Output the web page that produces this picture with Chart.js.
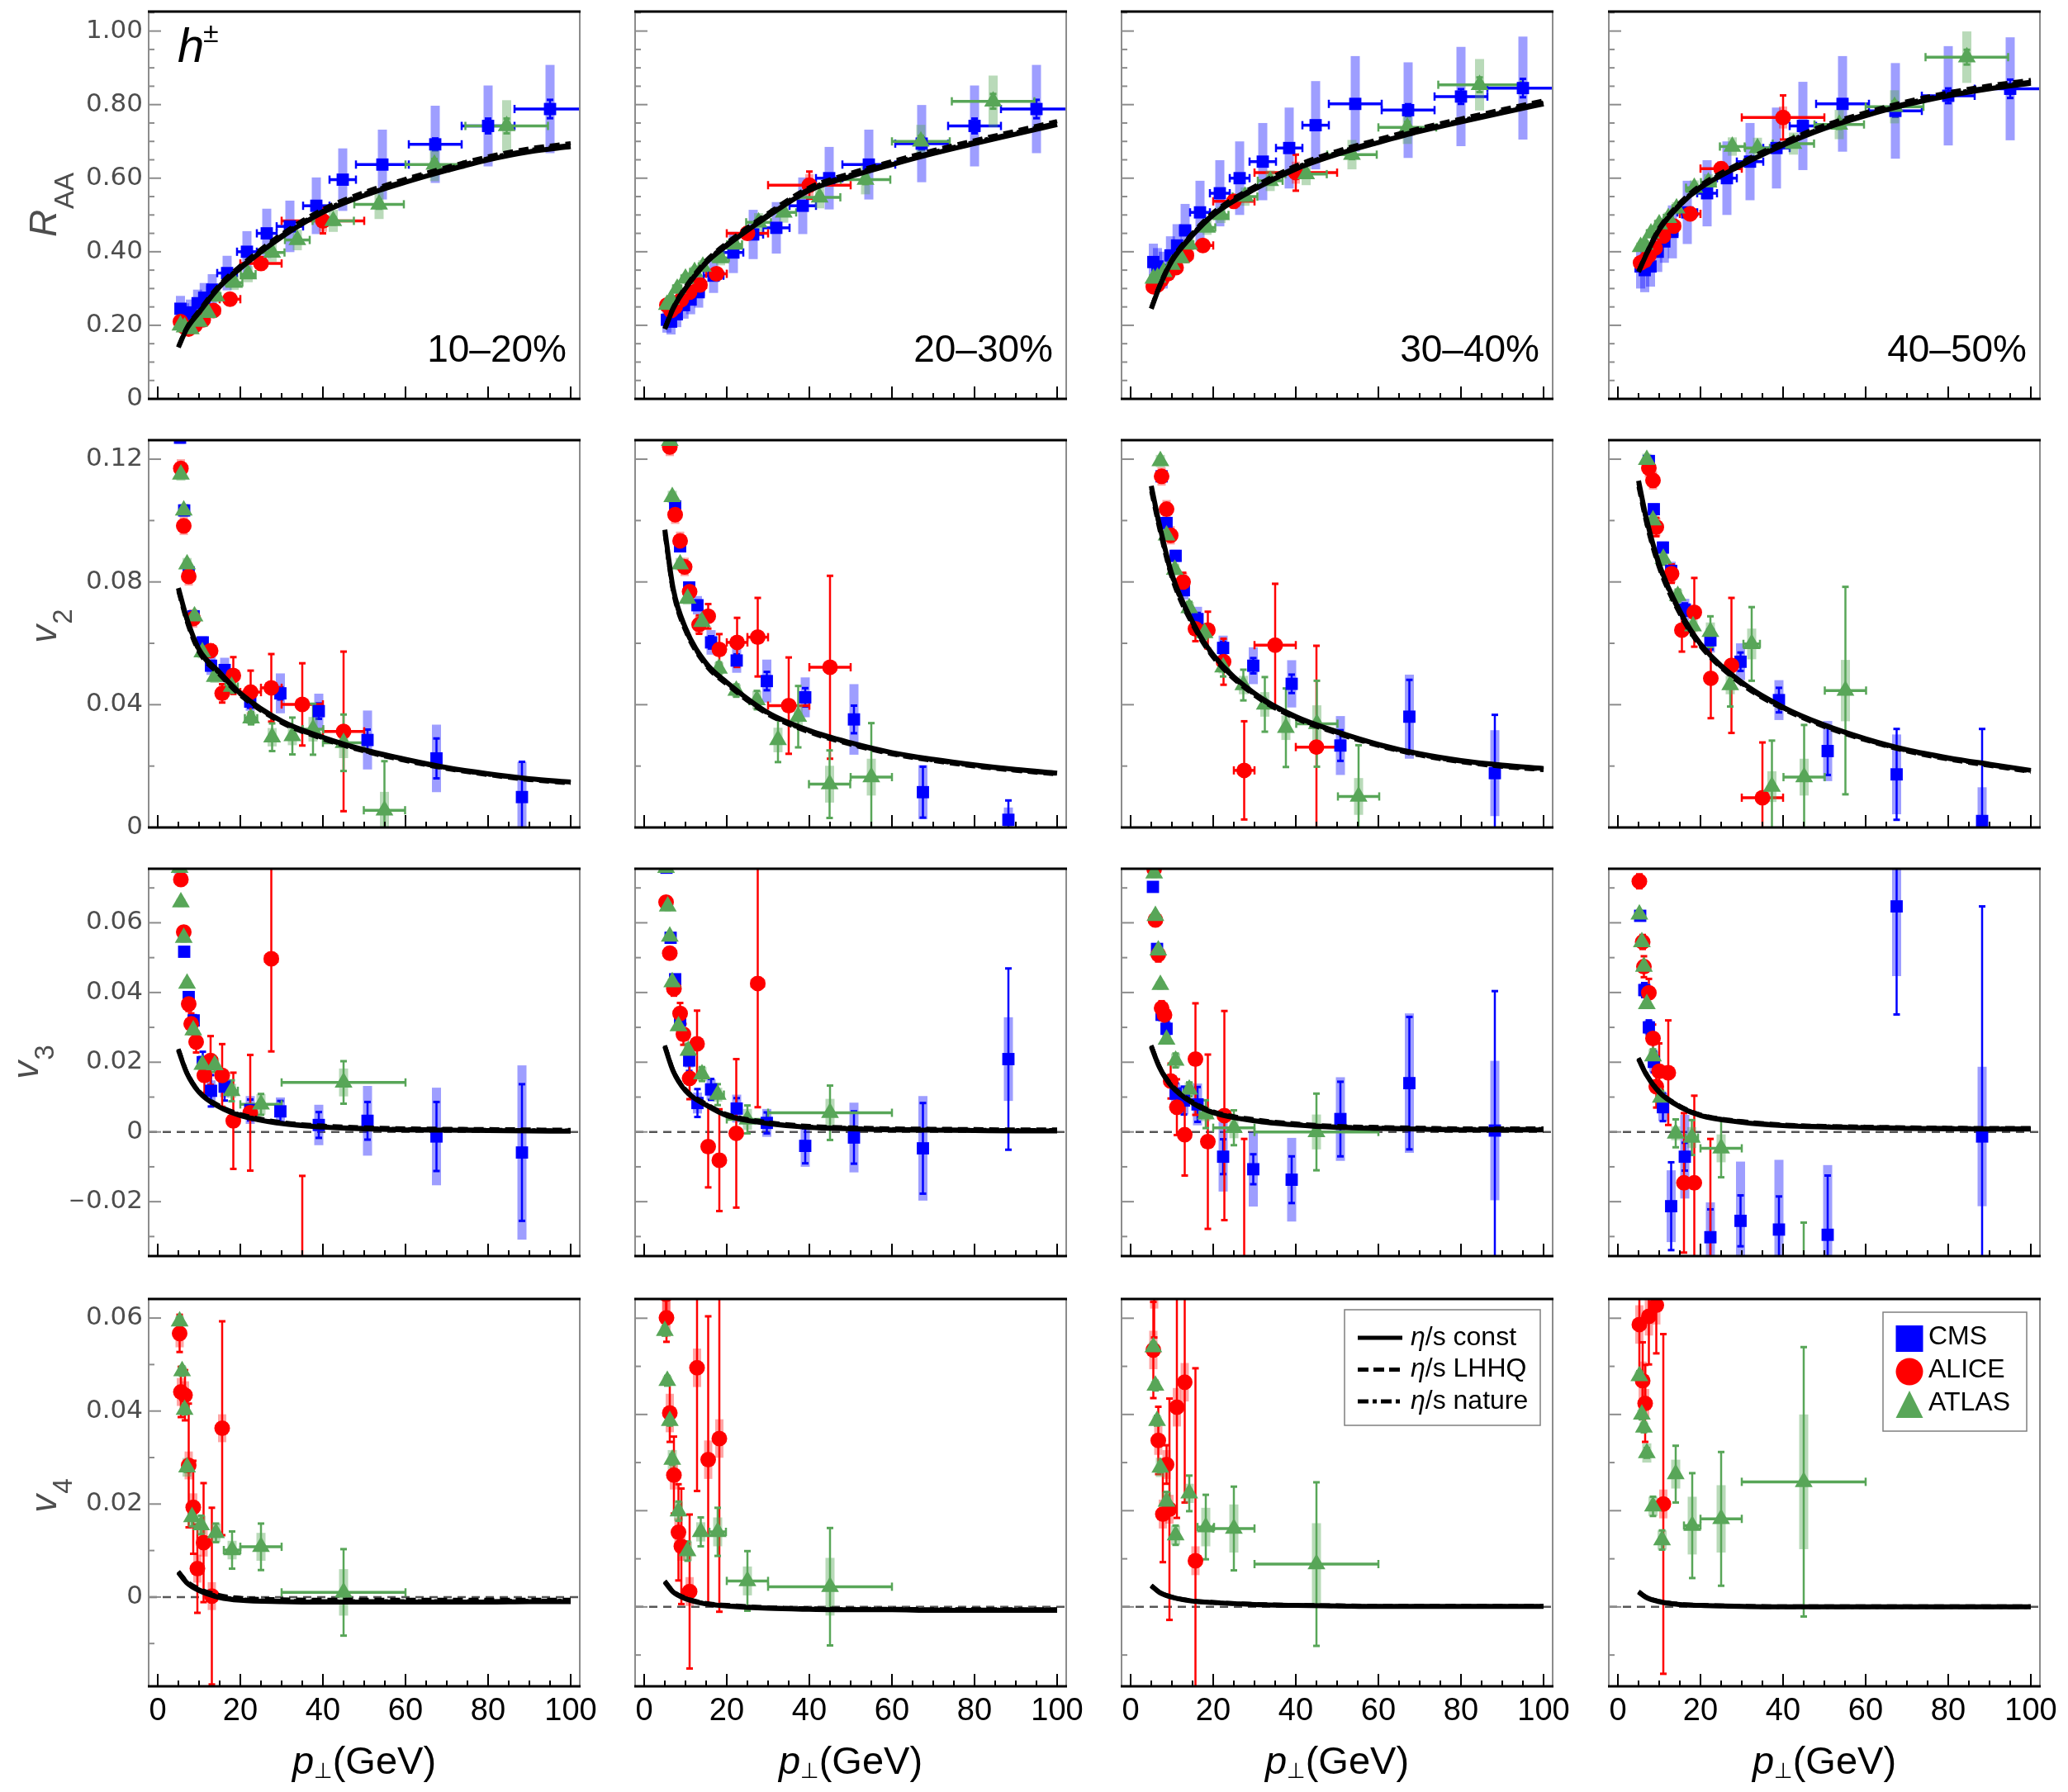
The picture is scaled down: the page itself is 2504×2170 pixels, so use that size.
<!DOCTYPE html>
<html lang="en">
<head>
<meta charset="UTF-8">
<title>h± RAA, v2, v3, v4</title>
<script src="https://cdn.jsdelivr.net/npm/chart.js"></script>
<style>
  html, body { margin: 0; padding: 0; background: #fff; }
  body { width: 2504px; height: 2170px; position: relative; overflow: hidden; }
  canvas { position: absolute; }
</style>
</head>
<body>
<script>
// ---------- data ----------
const centralities = ['10–20%', '20–30%', '30–40%', '40–50%'];

// tick labels
const xTicks = [0, 20, 40, 60, 80, 100];
const raaTicks = [0, 0.2, 0.4, 0.6, 0.8, 1.0];
const raaTickLabels = ['0', '0.20', '0.40', '0.60', '0.80', '1.00'];
const v2Ticks = [0, 0.04, 0.08, 0.12];
const v2TickLabels = ['0', '0.04', '0.08', '0.12'];
const v3Ticks = [-0.02, 0, 0.02, 0.04, 0.06];
const v3TickLabels = ['\u22120.02', '0', '0.02', '0.04', '0.06'];
const v4Ticks = [0, 0.02, 0.04, 0.06];
const v4TickLabels = ['0', '0.02', '0.04', '0.06'];

// theory curves (η/s const, LHHQ, nature) sampled at these pT
const curvePt = [5, 7, 10, 15, 20, 30, 40, 50, 60, 70, 80, 90, 100];
const raaConst = [
  [0.14, 0.19, 0.235, 0.305, 0.355, 0.44, 0.507, 0.553, 0.589, 0.621, 0.65, 0.672, 0.686],
  [0.19, 0.245, 0.3, 0.37, 0.417, 0.497, 0.567, 0.605, 0.637, 0.667, 0.694, 0.72, 0.746],
  [0.245, 0.305, 0.375, 0.445, 0.5, 0.57, 0.625, 0.665, 0.697, 0.727, 0.753, 0.778, 0.802],
  [0.345, 0.395, 0.46, 0.527, 0.574, 0.636, 0.69, 0.735, 0.77, 0.8, 0.824, 0.843, 0.858]];
const raaLHHQ = [
  [0.143, 0.194, 0.24, 0.311, 0.362, 0.448, 0.516, 0.562, 0.598, 0.63, 0.659, 0.681, 0.695],
  [0.193, 0.249, 0.305, 0.376, 0.424, 0.505, 0.575, 0.614, 0.646, 0.676, 0.703, 0.729, 0.755],
  [0.248, 0.309, 0.38, 0.451, 0.507, 0.578, 0.634, 0.674, 0.706, 0.736, 0.762, 0.787, 0.811],
  [0.348, 0.399, 0.465, 0.533, 0.581, 0.644, 0.698, 0.744, 0.779, 0.809, 0.833, 0.852, 0.867]];
const raaNature = [
  [0.141, 0.192, 0.237, 0.308, 0.358, 0.444, 0.511, 0.557, 0.593, 0.625, 0.654, 0.676, 0.69],
  [0.191, 0.247, 0.302, 0.373, 0.42, 0.501, 0.571, 0.609, 0.641, 0.671, 0.698, 0.724, 0.75],
  [0.246, 0.307, 0.377, 0.448, 0.503, 0.574, 0.629, 0.669, 0.701, 0.731, 0.757, 0.782, 0.806],
  [0.346, 0.397, 0.462, 0.53, 0.577, 0.64, 0.694, 0.739, 0.774, 0.804, 0.828, 0.847, 0.862]];
const v2Const = [
  [0.078, 0.0683, 0.058, 0.0505, 0.0437, 0.0347, 0.0294, 0.0253, 0.0222, 0.0195, 0.0175, 0.0159, 0.0148],
  [0.097, 0.078, 0.065, 0.0535, 0.0473, 0.0374, 0.0316, 0.0276, 0.0244, 0.0222, 0.0204, 0.0189, 0.0177],
  [0.1113, 0.0985, 0.0825, 0.067, 0.0562, 0.0437, 0.0361, 0.0312, 0.0271, 0.024, 0.0218, 0.0203, 0.0192],
  [0.113, 0.1001, 0.0858, 0.0705, 0.0598, 0.0473, 0.0392, 0.0334, 0.0289, 0.0253, 0.0227, 0.0206, 0.0186]];
const v2LHHQ = [
  [0.077, 0.0672, 0.0571, 0.0497, 0.043, 0.0341, 0.0288, 0.0248, 0.0217, 0.0191, 0.0171, 0.0155, 0.0144],
  [0.0955, 0.0768, 0.064, 0.0527, 0.0466, 0.0368, 0.031, 0.027, 0.0239, 0.0217, 0.0199, 0.0185, 0.0173],
  [0.1095, 0.097, 0.0812, 0.066, 0.0554, 0.043, 0.0355, 0.0306, 0.0266, 0.0235, 0.0213, 0.0198, 0.0187],
  [0.111, 0.0985, 0.0845, 0.0695, 0.059, 0.0466, 0.0386, 0.0328, 0.0284, 0.0248, 0.0222, 0.0201, 0.0181]];
const v2Nature = [
  [0.0775, 0.0678, 0.0576, 0.0501, 0.0434, 0.0344, 0.0291, 0.025, 0.0219, 0.0193, 0.0173, 0.0157, 0.0146],
  [0.0962, 0.0774, 0.0645, 0.0531, 0.047, 0.0371, 0.0313, 0.0273, 0.0241, 0.0219, 0.0201, 0.0187, 0.0175],
  [0.1104, 0.0978, 0.0818, 0.0665, 0.0558, 0.0433, 0.0358, 0.0309, 0.0268, 0.0237, 0.0215, 0.02, 0.0189],
  [0.112, 0.0993, 0.0851, 0.07, 0.0594, 0.0469, 0.0389, 0.0331, 0.0286, 0.025, 0.0224, 0.0203, 0.0183]];
const v3Const = [
  [0.0235, 0.017, 0.0114, 0.0071, 0.0047, 0.0024, 0.0014, 0.0009, 0.0006, 0.0005, 0.0004, 0.0003, 0.0002],
  [0.0245, 0.0175, 0.0118, 0.0077, 0.0047, 0.0024, 0.0013, 0.0009, 0.0006, 0.0005, 0.0004, 0.0003, 0.0003],
  [0.0245, 0.0185, 0.013, 0.0083, 0.0055, 0.0032, 0.002, 0.0013, 0.001, 0.0008, 0.0006, 0.0006, 0.0006],
  [0.0209, 0.0162, 0.0114, 0.0072, 0.0047, 0.0028, 0.0018, 0.0014, 0.0012, 0.001, 0.0009, 0.0008, 0.0008]];
const v3LHHQ = [
  [0.0238, 0.0173, 0.0117, 0.0075, 0.0051, 0.0028, 0.0018, 0.0013, 0.001, 0.0009, 0.0008, 0.0007, 0.0006],
  [0.0248, 0.0178, 0.0122, 0.0081, 0.0051, 0.0028, 0.0017, 0.0013, 0.001, 0.0009, 0.0008, 0.0007, 0.0007],
  [0.0248, 0.0188, 0.0134, 0.0087, 0.0059, 0.0036, 0.0024, 0.0017, 0.0014, 0.0012, 0.001, 0.001, 0.001],
  [0.0212, 0.0165, 0.0117, 0.0075, 0.005, 0.0031, 0.0021, 0.0017, 0.0015, 0.0013, 0.0012, 0.0011, 0.0011]];
const v3Nature = [
  [0.0237, 0.0172, 0.0116, 0.0073, 0.0049, 0.0026, 0.0016, 0.0011, 0.0008, 0.0007, 0.0006, 0.0005, 0.0004],
  [0.0247, 0.0177, 0.012, 0.0079, 0.0049, 0.0026, 0.0015, 0.0011, 0.0008, 0.0007, 0.0006, 0.0005, 0.0005],
  [0.0247, 0.0187, 0.0132, 0.0085, 0.0057, 0.0034, 0.0022, 0.0015, 0.0012, 0.001, 0.0008, 0.0008, 0.0008],
  [0.0211, 0.0164, 0.0116, 0.0074, 0.0049, 0.003, 0.002, 0.0016, 0.0014, 0.0012, 0.0011, 0.001, 0.001]];
const v4Const = [
  [0.0053, 0.0031, 0.0014, -0.0001, -0.0007, -0.001, -0.0011, -0.0011, -0.0011, -0.0011, -0.0011, -0.001, -0.001],
  [0.0052, 0.0031, 0.0017, 0.0006, 0.0002, -0.0003, -0.0005, -0.0006, -0.0006, -0.0007, -0.0007, -0.0007, -0.0007],
  [0.0044, 0.003, 0.002, 0.0012, 0.0009, 0.0005, 0.0003, 0.0002, 0.0001, 0.0001, 0.0001, 0.0001, 0.0001],
  [0.0031, 0.0019, 0.0011, 0.0005, 0.0003, 0.0001, 0, 0, 0, 0, 0, 0, 0]];
const v4LHHQ = [
  [0.0055, 0.0034, 0.0018, 0.0004, -0.0002, -0.0005, -0.0006, -0.0006, -0.0006, -0.0006, -0.0006, -0.0006, -0.0006],
  [0.0054, 0.0033, 0.0019, 0.0008, 0.0004, -0.0001, -0.0003, -0.0004, -0.0004, -0.0005, -0.0005, -0.0005, -0.0005],
  [0.0045, 0.0031, 0.0021, 0.0013, 0.001, 0.0006, 0.0004, 0.0003, 0.0002, 0.0002, 0.0002, 0.0002, 0.0002],
  [0.0032, 0.002, 0.0012, 0.0006, 0.0004, 0.0002, 0.0001, 0.0001, 0.0001, 0.0001, 0.0001, 0.0001, 0.0001]];
const v4Nature = [
  [0.0054, 0.0032, 0.0016, 0.0001, -0.0005, -0.0008, -0.0009, -0.0009, -0.0009, -0.0009, -0.0009, -0.0008, -0.0008],
  [0.0053, 0.0032, 0.0018, 0.0007, 0.0003, -0.0002, -0.0004, -0.0005, -0.0005, -0.0006, -0.0006, -0.0006, -0.0006],
  [0.0044, 0.003, 0.002, 0.0012, 0.0009, 0.0005, 0.0003, 0.0002, 0.0001, 0.0001, 0.0001, 0.0001, 0.0001],
  [0.0031, 0.0019, 0.0011, 0.0005, 0.0003, 0.0001, 0, 0, 0, 0, 0, 0, 0]];

// R_AA data
const cmsRaaPt = [5.5, 6.5, 7.9, 9.65, 11.25, 13.2, 16.8, 21.6, 26.4, 32, 38.4, 44.8, 54.4, 67.2, 80, 95];
const cmsRaaXe = [0.5, 0.5, 0.9, 0.85, 0.75, 1.2, 2.4, 2.4, 2.4, 3.2, 3.2, 3.2, 6.4, 6.4, 6.4, 8.6];
const cmsRaa = [
  [0.245, 0.225, 0.235, 0.26, 0.275, 0.297, 0.342, 0.40, 0.45, 0.469, 0.525, 0.596, 0.637, 0.692, 0.742, 0.788],
  [0.215, 0.21, 0.23, 0.255, 0.27, 0.29, 0.335, 0.398, 0.447, 0.465, 0.525, 0.60, 0.637, 0.694, 0.742, 0.788],
  [0.372, 0.36, 0.35, 0.39, 0.417, 0.458, 0.507, 0.559, 0.60, 0.645, 0.682, 0.744, 0.802, 0.785, 0.822, 0.845],
  [0.36, 0.35, 0.36, 0.40, 0.428, 0.454, 0.507, 0.559, 0.60, 0.645, 0.682, 0.742, 0.802, 0.783, 0.824, 0.843]];
const cmsRaaStat = [0.004, 0.004, 0.004, 0.004, 0.005, 0.005, 0.005, 0.006, 0.007, 0.008, 0.009, 0.01, 0.012, 0.016, 0.02, 0.025];
const cmsRaaSys = [
  [0.035, 0.035, 0.035, 0.037, 0.04, 0.042, 0.047, 0.056, 0.067, 0.07, 0.077, 0.085, 0.095, 0.105, 0.11, 0.12],
  [0.035, 0.035, 0.035, 0.037, 0.04, 0.042, 0.047, 0.056, 0.067, 0.07, 0.077, 0.085, 0.095, 0.105, 0.11, 0.12],
  [0.05, 0.05, 0.05, 0.052, 0.058, 0.072, 0.086, 0.09, 0.1, 0.105, 0.11, 0.12, 0.13, 0.13, 0.135, 0.14],
  [0.06, 0.06, 0.055, 0.055, 0.058, 0.072, 0.086, 0.09, 0.1, 0.105, 0.11, 0.12, 0.13, 0.13, 0.135, 0.14]];

const aliceRaaPt = [5.5, 6.5, 7.5, 9, 11, 13.5, 17.5, 25, 40];
const aliceRaaXe = [0.5, 0.5, 0.5, 1, 1, 1.5, 2.5, 5, 10];
const aliceRaa = [
  [0.21, 0.195, 0.19, 0.2, 0.215, 0.24, 0.271, 0.368, 0.484],
  [0.255, 0.24, 0.25, 0.27, 0.29, 0.31, 0.34, 0.45, 0.581],
  [0.305, 0.31, 0.324, 0.34, 0.357, 0.39, 0.417, 0.537, 0.615],
  [0.37, 0.376, 0.39, 0.41, 0.443, 0.47, 0.503, 0.626, 0.765]];
const aliceRaaStat = [
  [0.003, 0.003, 0.004, 0.004, 0.005, 0.006, 0.008, 0.015, 0.034],
  [0.003, 0.003, 0.004, 0.004, 0.005, 0.006, 0.008, 0.015, 0.037],
  [0.003, 0.003, 0.004, 0.004, 0.005, 0.006, 0.008, 0.015, 0.049],
  [0.003, 0.003, 0.004, 0.004, 0.005, 0.006, 0.008, 0.015, 0.06]];
const aliceRaaSys = [0.012, 0.012, 0.012, 0.013, 0.014, 0.016, 0.018, 0.02, 0.03];

const atlasRaaPt = [5.5, 6.5, 8, 10, 12.2, 14.2, 18.5, 21.9, 27.7, 33.8, 42.5, 53.6, 67, 84.5];
const atlasRaaXe = [0.5, 0.5, 1, 1, 1.1, 1, 2, 1.8, 3, 3, 5, 6, 7, 10];
const atlasRaa = [
  [0.2, 0.195, 0.19, 0.21, 0.234, 0.279, 0.316, 0.339, 0.398, 0.432, 0.484, 0.529, 0.637, 0.742],
  [0.256, 0.27, 0.30, 0.327, 0.345, 0.36, 0.383, 0.42, 0.48, 0.507, 0.548, 0.596, 0.70, 0.809],
  [0.327, 0.33, 0.345, 0.365, 0.383, 0.42, 0.466, 0.5, 0.55, 0.593, 0.611, 0.664, 0.738, 0.854],
  [0.413, 0.42, 0.45, 0.475, 0.492, 0.518, 0.574, 0.589, 0.686, 0.682, 0.694, 0.746, 0.794, 0.929]];
const atlasRaaStat = [0.002, 0.002, 0.002, 0.003, 0.003, 0.004, 0.004, 0.005, 0.006, 0.007, 0.01, 0.012, 0.015, 0.02];
const atlasRaaSys = [0.012, 0.012, 0.012, 0.013, 0.015, 0.017, 0.02, 0.022, 0.025, 0.028, 0.03, 0.04, 0.045, 0.07];

// CMS flow data (v2, v3) share pT bins
const cmsFlowPt = [5.4, 6.4, 7.5, 8.7, 10.9, 12.9, 16.2, 22.4, 29.7, 39, 50.8, 67.5, 88.2];
const cmsV2 = [
  [0.127, 0.1033, 0.0831, 0.0688, 0.0603, 0.0527, 0.0513, 0.041, 0.0437, 0.0379, 0.0285, 0.0225, 0.0099],
  [null, 0.126, 0.1046, 0.0916, 0.0782, 0.0724, 0.0603, 0.0544, 0.0477, 0.0424, 0.0352, 0.0115, 0.0025],
  [null, null, 0.1144, 0.0992, 0.0885, 0.0773, 0.0679, 0.0585, 0.0527, 0.0468, 0.0267, 0.0361, 0.0177],
  [null, null, 0.1194, 0.1037, 0.0912, 0.0836, 0.071, 0.061, 0.054, 0.0415, 0.0249, 0.0173, 0.0021]];
const cmsV2Stat = [
  [0.001, 0.001, 0.001, 0.001, 0.001, 0.001, 0.0015, 0.002, 0.002, 0.0025, 0.0034, 0.0065, 0.0115],
  [0.001, 0.001, 0.001, 0.001, 0.001, 0.0015, 0.002, 0.002, 0.003, 0.003, 0.0045, 0.0083, 0.0063],
  [0.001, 0.001, 0.001, 0.001, 0.001, 0.0015, 0.002, 0.002, 0.0025, 0.003, 0.005, 0.012, 0.019],
  [0.001, 0.001, 0.001, 0.001, 0.001, 0.0015, 0.002, 0.003, 0.003, 0.004, 0.0078, 0.0148, 0.03]];
const cmsV2Sys = [
  [0.002, 0.002, 0.002, 0.002, 0.002, 0.003, 0.004, 0.003, 0.0065, 0.0057, 0.0096, 0.011, 0.0115],
  [0.002, 0.002, 0.002, 0.002, 0.002, 0.003, 0.004, 0.004, 0.007, 0.0065, 0.0115, 0.0088, 0.004],
  [0.002, 0.002, 0.002, 0.002, 0.002, 0.003, 0.004, 0.004, 0.006, 0.0077, 0.0096, 0.0137, 0.014],
  [0.002, 0.002, 0.002, 0.002, 0.002, 0.003, 0.0035, 0.004, 0.006, 0.0065, 0.0098, 0.013, 0.011]];
const cmsV3 = [
  [0.076, 0.0517, 0.0387, 0.032, 0.02, 0.0118, 0.013, 0.0063, 0.0059, 0.002, 0.0032, -0.0013, -0.0059],
  [0.0758, 0.0557, 0.0438, 0.032, 0.0205, 0.0083, 0.0122, 0.0067, 0.0026, -0.004, -0.0016, -0.0047, 0.0209],
  [0.0703, 0.0525, 0.0336, 0.0296, 0.011, 0.009, 0.0079, -0.0071, -0.0107, -0.0137, 0.0037, 0.014, 0.0004],
  [0.062, 0.0407, 0.03, 0.0201, 0.0071, -0.0213, -0.0071, -0.0302, -0.0255, -0.028, -0.0295, 0.0647, -0.0013]];
const cmsV3Stat = [
  [0.001, 0.001, 0.001, 0.0015, 0.003, 0.0045, 0.004, 0.003, 0.003, 0.0037, 0.0054, 0.0099, 0.0196],
  [0.001, 0.001, 0.001, 0.0015, 0.003, 0.004, 0.003, 0.003, 0.003, 0.005, 0.0075, 0.013, 0.026],
  [0.001, 0.001, 0.0015, 0.002, 0.003, 0.004, 0.005, 0.005, 0.0043, 0.0067, 0.0107, 0.019, 0.04],
  [0.001, 0.002, 0.002, 0.003, 0.004, 0.0126, 0.004, 0.008, 0.0073, 0.0095, 0.017, 0.031, 0.066]];
const cmsV3Sys = [
  [0.001, 0.001, 0.001, 0.0015, 0.002, 0.003, 0.003, 0.004, 0.004, 0.0058, 0.01, 0.014, 0.025],
  [0.001, 0.001, 0.001, 0.0015, 0.002, 0.003, 0.003, 0.004, 0.004, 0.006, 0.01, 0.015, 0.012],
  [0.001, 0.001, 0.0015, 0.002, 0.003, 0.004, 0.006, 0.01, 0.0107, 0.012, 0.012, 0.02, 0.02],
  [0.001, 0.002, 0.002, 0.003, 0.004, 0.0103, 0.012, 0.01, 0.017, 0.02, 0.02, 0.02, 0.02]];

// ALICE / ATLAS flow points: [pT, value, pT half-width, stat, sys]
const aliceV2 = [
  [[5.6, 0.117, 0, 0.001, 0.003], [6.3, 0.0983, 0, 0.001, 0.003], [7.5, 0.0818, 0, 0.001, 0.003], [8.6, 0.0681, 0, 0.001, 0.003], [12.8, 0.0576, 0, 0.002, 0.002], [15.6, 0.0437, 0, 0.003, 0.002], [18.3, 0.0495, 0, 0.006, 0.002], [22.5, 0.0441, 2.5, 0.007, 0.002], [27.5, 0.0455, 2.5, 0.011, 0.002], [35, 0.0401, 5, 0.0134, 0.002], [45, 0.0313, 5, 0.026, 0.002]],
  [[6.2, 0.124, 0, 0.001, 0.003], [7.5, 0.1019, 0, 0.001, 0.003], [8.7, 0.0934, 0, 0.001, 0.003], [9.8, 0.0849, 0, 0.002, 0.003], [11, 0.0768, 0, 0.002, 0.003], [13.3, 0.0661, 0, 0.003, 0.003], [15.5, 0.0688, 0, 0.004, 0.002], [18.2, 0.058, 0, 0.005, 0.002], [22.5, 0.0603, 2.5, 0.008, 0.002], [27.5, 0.062, 2.5, 0.0128, 0.002], [35, 0.0397, 5, 0.0157, 0.002], [45, 0.0522, 5, 0.0298, 0.002]],
  [[7.5, 0.1144, 0, 0.001, 0.003], [8.7, 0.1037, 0, 0.001, 0.003], [9.7, 0.0952, 0, 0.002, 0.003], [12.7, 0.08, 0, 0.003, 0.003], [15.7, 0.0647, 0, 0.004, 0.002], [18.7, 0.0643, 0, 0.006, 0.002], [22.5, 0.054, 0, 0.0075, 0.002], [27.5, 0.0186, 2.5, 0.016, 0.002], [35, 0.0594, 5, 0.02, 0.002], [45, 0.0262, 5, 0.033, 0.002]],
  [[7.5, 0.1171, 0, 0.002, 0.003], [8.5, 0.1131, 0, 0.002, 0.003], [9.3, 0.0979, 0, 0.003, 0.003], [13, 0.0827, 0, 0.003, 0.003], [15.5, 0.0643, 0, 0.007, 0.002], [18.5, 0.0701, 0, 0.0112, 0.002], [22.5, 0.0486, 0, 0.013, 0.002], [27.5, 0.0528, 0, 0.022, 0.002], [35, 0.0097, 5, 0.018, 0.002]]];
const atlasV2 = [
  [[5.6, 0.115, 0, 0.001, 0.002], [6.3, 0.1033, 0, 0.001, 0.002], [7.1, 0.0858, 0, 0.001, 0.002], [8.9, 0.0688, 0, 0.001, 0.002], [10.8, 0.0571, 0, 0.001, 0.002], [13.8, 0.0491, 0, 0.001, 0.002], [17.9, 0.0459, 1.5, 0.002, 0.002], [22.6, 0.0356, 1.5, 0.002, 0.002], [27.7, 0.0294, 0, 0.0045, 0.003], [32.6, 0.0298, 0, 0.006, 0.003], [37.6, 0.032, 2.5, 0.0083, 0.004], [45, 0.0276, 5, 0.0092, 0.005], [54.9, 0.0056, 5, 0.016, 0.006]],
  [[6.2, 0.126, 0, 0.001, 0.002], [6.8, 0.1077, 0, 0.001, 0.002], [8.7, 0.0858, 0, 0.001, 0.002], [10.5, 0.0746, 0, 0.001, 0.002], [14, 0.067, 0, 0.002, 0.002], [18.1, 0.0518, 0, 0.002, 0.002], [22.3, 0.0446, 0, 0.002, 0.002], [27.3, 0.0415, 0, 0.003, 0.003], [32.4, 0.0285, 0, 0.0072, 0.004], [37.3, 0.0361, 0, 0.01, 0.004], [44.9, 0.0141, 5, 0.011, 0.006], [55, 0.0164, 5, 0.0176, 0.006]],
  [[7.2, 0.1194, 0, 0.001, 0.002], [8.7, 0.0952, 0, 0.001, 0.002], [10.7, 0.084, 0, 0.001, 0.002], [14.2, 0.0715, 0, 0.002, 0.002], [17.9, 0.0634, 0, 0.002, 0.002], [22.4, 0.0522, 0, 0.003, 0.002], [27.3, 0.0464, 0, 0.005, 0.003], [32.5, 0.0401, 0, 0.0089, 0.004], [37.6, 0.0325, 0, 0.0128, 0.004], [45.1, 0.0338, 5, 0.014, 0.006], [55.2, 0.0101, 5, 0.0167, 0.006]],
  [[7, 0.1198, 0, 0.001, 0.002], [8.5, 0.1001, 0, 0.001, 0.002], [11, 0.0876, 0, 0.002, 0.002], [14.5, 0.0755, 0, 0.002, 0.002], [18.2, 0.0656, 0, 0.003, 0.002], [22.4, 0.0638, 0, 0.005, 0.003], [27.2, 0.0464, 0, 0.007, 0.003], [32.4, 0.0598, 2, 0.012, 0.005], [37.3, 0.0133, 0, 0.015, 0.005], [45.1, 0.0164, 5, 0.017, 0.006], [55.1, 0.0446, 5, 0.0338, 0.01]]];
const aliceV3 = [
  [[5.6, 0.0724, 0, 0.001, 0.002], [6.3, 0.0573, 0, 0.001, 0.002], [7.5, 0.0367, 0, 0.002, 0.002], [8.1, 0.031, 0, 0.003, 0.002], [9.3, 0.0258, 0, 0.003, 0.002], [11.3, 0.0162, 0, 0.005, 0.002], [12.8, 0.0205, 0, 0.007, 0.002], [15.6, 0.0162, 0, 0.009, 0.002], [18.3, 0.0032, 0, 0.0138, 0.002], [22.4, 0.0055, 0, 0.0166, 0.002], [27.5, 0.0497, 1.5, 0.0266, 0.002], [35, -0.045, 0, 0.0324, 0.002]],
  [[5.3, 0.0659, 0, 0.001, 0.002], [6.2, 0.0513, 0, 0.001, 0.002], [7.2, 0.0411, 0, 0.002, 0.002], [8.7, 0.034, 0, 0.003, 0.002], [9.5, 0.028, 0, 0.003, 0.002], [11, 0.0154, 0, 0.006, 0.002], [12.8, 0.0253, 0, 0.0095, 0.002], [15.5, -0.0042, 0, 0.0117, 0.002], [18.2, -0.0081, 0, 0.0146, 0.002], [22.3, -0.0004, 0, 0.0213, 0.002], [27.5, 0.0426, 1.5, 0.0355, 0.002]],
  [[5.7, 0.0754, 0, 0.001, 0.002], [6, 0.0608, 0, 0.001, 0.002], [6.7, 0.0509, 0, 0.002, 0.002], [7.5, 0.0355, 0, 0.002, 0.002], [8.2, 0.0336, 0, 0.003, 0.002], [9.7, 0.0146, 0, 0.005, 0.002], [11.2, 0.0071, 0, 0.008, 0.002], [13.1, -0.0008, 0, 0.0117, 0.002], [15.7, 0.0209, 0, 0.016, 0.002], [18.7, -0.0028, 0, 0.025, 0.002], [22.7, 0.0047, 0, 0.03, 0.002], [27.5, -0.04, 0, 0.038, 0.002]],
  [[5.2, 0.0719, 0, 0.002, 0.002], [6, 0.0545, 0, 0.002, 0.002], [6.3, 0.0474, 0, 0.003, 0.002], [7.5, 0.0399, 0, 0.004, 0.002], [8.5, 0.0268, 0, 0.004, 0.002], [9.3, 0.013, 0, 0.006, 0.002], [10, 0.0174, 0, 0.008, 0.002], [12.2, 0.017, 0, 0.015, 0.002], [16, -0.0146, 0, 0.02, 0.002], [18.5, -0.0146, 0, 0.025, 0.002], [22.4, -0.04, 0, 0.038, 0.002]]];
const atlasV3 = [
  [[5.3, 0.0758, 0, 0.001, 0.001], [5.6, 0.0659, 0, 0.001, 0.001], [6.3, 0.0557, 0, 0.001, 0.001], [7.1, 0.0426, 0, 0.001, 0.001], [8.6, 0.0292, 0, 0.001, 0.001], [10.8, 0.0193, 0, 0.002, 0.002], [13.8, 0.0192, 0, 0.002, 0.002], [17.9, 0.0118, 1.5, 0.003, 0.002], [25, 0.0079, 5, 0.003, 0.003], [45, 0.0142, 15, 0.0061, 0.004]],
  [[5.3, 0.0758, 0, 0.001, 0.001], [5.7, 0.0647, 0, 0.001, 0.001], [6.2, 0.0561, 0, 0.001, 0.001], [6.8, 0.043, 0, 0.001, 0.001], [8.3, 0.0304, 0, 0.001, 0.001], [10.7, 0.0233, 0, 0.002, 0.002], [14, 0.0166, 0, 0.002, 0.002], [17.8, 0.0107, 1.5, 0.003, 0.002], [25, 0.0036, 5, 0.004, 0.003], [45, 0.0055, 15, 0.0078, 0.004]],
  [[5.7, 0.0742, 0, 0.001, 0.001], [6, 0.062, 0, 0.001, 0.001], [6.7, 0.0521, 0, 0.001, 0.001], [7.2, 0.0422, 0, 0.001, 0.001], [8.7, 0.0265, 0, 0.001, 0.001], [10.9, 0.0205, 0, 0.002, 0.002], [14.2, 0.0122, 0, 0.002, 0.002], [18.2, 0.0051, 1.5, 0.004, 0.002], [25, 0.0012, 5, 0.005, 0.003], [45, 0, 15, 0.011, 0.005]],
  [[5.2, 0.0624, 0, 0.001, 0.001], [5.8, 0.0545, 0, 0.001, 0.001], [6.3, 0.0474, 0, 0.001, 0.001], [7, 0.0367, 0, 0.001, 0.001], [8.5, 0.0217, 0, 0.002, 0.002], [10.4, 0.0099, 0, 0.002, 0.002], [14, -0.0004, 0, 0.004, 0.002], [17.9, -0.0016, 1.5, 0.005, 0.003], [25, -0.0047, 5, 0.0083, 0.004], [45, -0.05, 0, 0.024, 0.004]]];
const aliceV4 = [
  [[5.3, 0.0567, 0, 0.004, 0.003], [5.6, 0.0441, 0, 0.0054, 0.003], [6.6, 0.0434, 0, 0.0054, 0.003], [7.5, 0.0283, 0, 0.0133, 0.003], [8.6, 0.0193, 0, 0.01, 0.003], [9.6, 0.0061, 0, 0.0095, 0.003], [11.1, 0.0117, 0, 0.0128, 0.003], [13.1, 0.0002, 0, 0.019, 0.003], [15.6, 0.0363, 0, 0.023, 0.003]],
  [[5.3, 0.065, 0, 0.005, 0.004], [5.4, 0.0601, 0, 0.005, 0.004], [6.2, 0.0403, 0, 0.006, 0.004], [7.2, 0.0274, 0, 0.008, 0.003], [8.3, 0.0155, 0, 0.01, 0.003], [9, 0.0126, 0, 0.012, 0.003], [11, 0.0032, 0, 0.016, 0.003], [12.8, 0.0497, 0, 0.0256, 0.004], [15.5, 0.0306, 0, 0.0298, 0.004], [18.2, 0.035, 0, 0.036, 0.004]],
  [[5.5, 0.0534, 0, 0.01, 0.004], [5.7, 0.066, 0, 0.01, 0.004], [6.7, 0.0346, 0, 0.007, 0.003], [7.8, 0.0193, 0, 0.01, 0.003], [8.7, 0.0296, 0, 0.004, 0.003], [9.4, 0.0203, 0, 0.023, 0.003], [11.2, 0.0415, 0, 0.023, 0.004], [13.1, 0.0467, 0, 0.025, 0.004], [15.7, 0.0096, 0, 0.04, 0.003]],
  [[5.2, 0.0587, 0, 0.01, 0.004], [6, 0.047, 0, 0.008, 0.004], [6.6, 0.0423, 0, 0.008, 0.003], [7.5, 0.0604, 0, 0.01, 0.004], [9.3, 0.0627, 0, 0.01, 0.004], [11, 0.0214, 0, 0.0353, 0.003]]];
const atlasV4 = [
  [[5.3, 0.0593, 0, 0.001, 0.001], [5.9, 0.0486, 0, 0.001, 0.001], [6.5, 0.0403, 0, 0.001, 0.001], [7.1, 0.0279, 0, 0.001, 0.002], [8.3, 0.0172, 0, 0.002, 0.002], [10.5, 0.0155, 0, 0.002, 0.002], [14.1, 0.0138, 0, 0.002, 0.002], [18, 0.0101, 2, 0.004, 0.002], [25, 0.0108, 5, 0.005, 0.003], [45, 0.001, 15, 0.0093, 0.005]],
  [[5, 0.0574, 0, 0.001, 0.001], [5.6, 0.047, 0, 0.001, 0.001], [6.2, 0.0387, 0, 0.001, 0.001], [6.8, 0.0306, 0, 0.001, 0.002], [8.3, 0.0199, 0, 0.002, 0.002], [10.5, 0.0116, 0, 0.002, 0.002], [13.7, 0.0156, 0, 0.003, 0.002], [17.8, 0.0156, 2, 0.005, 0.003], [25, 0.0054, 5, 0.0062, 0.003], [45, 0.0042, 15, 0.0122, 0.006]],
  [[5.5, 0.054, 0, 0.001, 0.001], [6, 0.046, 0, 0.001, 0.001], [6.4, 0.0387, 0, 0.001, 0.001], [7.2, 0.029, 0, 0.001, 0.002], [8.7, 0.0219, 0, 0.002, 0.002], [10.9, 0.0149, 0, 0.002, 0.002], [14.2, 0.0236, 0, 0.0037, 0.002], [18.2, 0.0166, 2, 0.0067, 0.004], [25, 0.0163, 5, 0.0087, 0.005], [45, 0.0089, 15, 0.017, 0.0085]],
  [[5.2, 0.048, 0, 0.001, 0.001], [5.8, 0.04, 0, 0.001, 0.001], [6.3, 0.0373, 0, 0.001, 0.001], [7, 0.032, 0, 0.001, 0.002], [8.5, 0.0209, 0, 0.002, 0.002], [10.7, 0.0139, 0, 0.002, 0.002], [14, 0.0276, 0, 0.0059, 0.003], [18, 0.0169, 2, 0.0109, 0.006], [25, 0.0183, 5, 0.0139, 0.007], [45, 0.026, 15, 0.028, 0.014]]];

// ---------- layout & style ----------
const panelLeft = [180, 769, 1358, 1948];
const panelTop = [14, 533, 1052, 1573];
const PW = 522, PH = 469;
const PAD = { left: 180, top: 14, right: 40, bottom: 140 };
const yMin = [[0, 0, 0, 0], [0, 0, 0, 0], [-0.0356, -0.0356, -0.0356, -0.0356], [-0.0192, -0.0165, -0.0165, -0.0165]];
const yMax = [[1.053, 1.053, 1.053, 1.053], [0.1262, 0.1262, 0.1262, 0.1262], [0.0755, 0.0755, 0.0755, 0.0755], [0.0641, 0.064, 0.064, 0.064]];
const rowSpec = [
  { ticks: raaTicks, labels: raaTickLabels, minor: 0.05, zero: false, main: 'R', sub: 'AA', mainFont: 'italic 46px "Liberation Sans"', subFont: '33px "Liberation Sans"', subDy: 21, titleX: 68, titleDy: 0 },
  { ticks: v2Ticks, labels: v2TickLabels, minor: 0.02, zero: false, main: 'v', sub: '2', mainFont: 'italic 44px "Liberation Sans"', subFont: '33px "Liberation Sans"', subDy: 19, titleX: 68, titleDy: -9 },
  { ticks: v3Ticks, labels: v3TickLabels, minor: 0.01, zero: true, main: 'v', sub: '3', mainFont: 'italic 44px "Liberation Sans"', subFont: '33px "Liberation Sans"', subDy: 19, titleX: 46, titleDy: 0 },
  { ticks: v4Ticks, labels: v4TickLabels, minor: 0.01, zero: true, main: 'v', sub: '4', mainFont: 'italic 44px "Liberation Sans"', subFont: '33px "Liberation Sans"', subDy: 19, titleX: 68, titleDy: 4 }];
const styles = {
  CMS: { shape: 'rect', radius: 10.5, color: '#0000ff', sys: 'rgba(0,0,255,0.38)', sysW: 11, order: 3 },
  ALICE: { shape: 'circle', radius: 9.5, color: '#ff0000', sys: 'rgba(255,0,0,0.35)', sysW: 10, order: 2 },
  ATLAS: { shape: 'triangle', radius: 12.5, color: '#58a658', sys: 'rgba(88,166,88,0.42)', sysW: 11, order: 1 }
};

function shared(pt, xe, val, stat, sys) {
  return pt.map((p, i) => [p, val[i], xe ? xe[i] : 0, stat[i], sys[i]]);
}

function expDataset(name, rows) {
  const st = styles[name];
  const kept = rows.filter(t => t[1] !== null);
  return {
    label: name,
    data: kept.map(t => ({ x: t[0], y: t[1] })),
    bars: kept,
    showLine: false,
    pointStyle: st.shape,
    pointRadius: st.radius,
    pointHoverRadius: st.radius,
    pointBackgroundColor: st.color,
    pointBorderWidth: 0,
    order: st.order,
    clip: 0
  };
}

function curveDataset(vals, dash, width) {
  return {
    type: 'line',
    data: curvePt.map((p, i) => ({ x: p, y: vals[i] })),
    borderColor: '#000',
    borderWidth: width,
    borderDash: dash,
    pointRadius: 0,
    fill: false,
    cubicInterpolationMode: 'monotone',
    order: 0,
    clip: 0
  };
}

function panelDatasets(r, c) {
  const sets = [];
  if (r === 0) {
    sets.push(curveDataset(raaConst[c], [], 6), curveDataset(raaLHHQ[c], [12, 7], 5), curveDataset(raaNature[c], [14, 6, 4, 6], 5));
    sets.push(expDataset('CMS', shared(cmsRaaPt, cmsRaaXe, cmsRaa[c], cmsRaaStat, cmsRaaSys[c])));
    sets.push(expDataset('ALICE', shared(aliceRaaPt, aliceRaaXe, aliceRaa[c], aliceRaaStat[c], aliceRaaSys)));
    sets.push(expDataset('ATLAS', shared(atlasRaaPt, atlasRaaXe, atlasRaa[c], atlasRaaStat, atlasRaaSys)));
  } else if (r === 1) {
    sets.push(curveDataset(v2Const[c], [], 6), curveDataset(v2LHHQ[c], [12, 7], 5), curveDataset(v2Nature[c], [14, 6, 4, 6], 5));
    sets.push(expDataset('CMS', shared(cmsFlowPt, null, cmsV2[c], cmsV2Stat[c], cmsV2Sys[c])));
    sets.push(expDataset('ALICE', aliceV2[c]));
    sets.push(expDataset('ATLAS', atlasV2[c]));
  } else if (r === 2) {
    sets.push(curveDataset(v3Const[c], [], 6), curveDataset(v3LHHQ[c], [12, 7], 5), curveDataset(v3Nature[c], [14, 6, 4, 6], 5));
    sets.push(expDataset('CMS', shared(cmsFlowPt, null, cmsV3[c], cmsV3Stat[c], cmsV3Sys[c])));
    sets.push(expDataset('ALICE', aliceV3[c]));
    sets.push(expDataset('ATLAS', atlasV3[c]));
  } else {
    sets.push(curveDataset(v4Const[c], [], 6), curveDataset(v4LHHQ[c], [12, 7], 5), curveDataset(v4Nature[c], [14, 6, 4, 6], 5));
    sets.push(expDataset('ALICE', aliceV4[c]));
    sets.push(expDataset('ATLAS', atlasV4[c]));
  }
  return sets;
}

function hline(ctx, x1, x2, y) { ctx.beginPath(); ctx.moveTo(x1, y); ctx.lineTo(x2, y); ctx.stroke(); }
function vline(ctx, x, y1, y2) { ctx.beginPath(); ctx.moveTo(x, y1); ctx.lineTo(x, y2); ctx.stroke(); }

function panelPlugin(r, c) {
  const spec = rowSpec[r];
  return {
    id: 'panel' + r + c,
    beforeDatasetsDraw(chart) {
      const { ctx, chartArea: a, scales: { x, y } } = chart;
      ctx.save();
      ctx.beginPath();
      ctx.rect(a.left, a.top, a.right - a.left, a.bottom - a.top);
      ctx.clip();
      if (spec.zero) {
        ctx.strokeStyle = '#555';
        ctx.lineWidth = 2.5;
        ctx.setLineDash([10, 7]);
        hline(ctx, a.left, a.right, y.getPixelForValue(0));
        ctx.setLineDash([]);
      }
      chart.data.datasets.forEach(ds => {
        if (!ds.bars) return;
        const st = styles[ds.label];
        ds.bars.forEach(([pt, val, xe, stat, sys]) => {
          const cx = x.getPixelForValue(pt), cy = y.getPixelForValue(val);
          if (sys) {
            const t = y.getPixelForValue(val + sys), b = y.getPixelForValue(val - sys);
            ctx.fillStyle = st.sys;
            ctx.fillRect(cx - st.sysW / 2, t, st.sysW, b - t);
          }
          ctx.strokeStyle = st.color;
          if (stat) {
            const t = y.getPixelForValue(val + stat), b = y.getPixelForValue(val - stat);
            ctx.lineWidth = 2.5;
            vline(ctx, cx, t, b);
            ctx.lineWidth = 3;
            hline(ctx, cx - 4, cx + 4, t);
            hline(ctx, cx - 4, cx + 4, b);
          }
          if (xe) {
            const l = x.getPixelForValue(pt - xe), rr = x.getPixelForValue(pt + xe);
            ctx.lineWidth = 3.5;
            hline(ctx, l, rr, cy);
            ctx.lineWidth = 2.5;
            vline(ctx, l, cy - 5, cy + 5);
            vline(ctx, rr, cy - 5, cy + 5);
          }
        });
      });
      ctx.restore();
    },
    afterDraw(chart) {
      const { ctx, chartArea: a, scales: { x, y } } = chart;
      ctx.save();
      // y ticks (inside, left)
      ctx.strokeStyle = '#8c8c8c';
      ctx.lineWidth = 2;
      const k0 = Math.ceil(y.min / spec.minor - 1e-6), k1 = Math.floor(y.max / spec.minor + 1e-6);
      for (let k = k0; k <= k1; k++) {
        const v = k * spec.minor;
        const major = spec.ticks.some(t => Math.abs(t - v) < 1e-9);
        const py = y.getPixelForValue(v);
        hline(ctx, a.left, a.left + (major ? 15 : 7), py);
      }
      // x ticks (inside, bottom)
      ctx.strokeStyle = '#000';
      for (let v = 0; v <= 100; v += 5) {
        const px = x.getPixelForValue(v);
        vline(ctx, px, a.bottom, a.bottom - (v % 20 === 0 ? 15 : 7));
      }
      // frame
      ctx.strokeStyle = '#8c8c8c';
      ctx.lineWidth = 2;
      vline(ctx, a.left, a.top, a.bottom);
      vline(ctx, a.right, a.top, a.bottom);
      ctx.strokeStyle = '#000';
      ctx.lineWidth = 3;
      hline(ctx, a.left - 1, a.right + 1, a.top);
      hline(ctx, a.left - 1, a.right + 1, a.bottom);

      // y tick labels (minus sign set separately so it keeps its full width)
      if (c === 0) {
        ctx.fillStyle = '#4d4d4d';
        ctx.textAlign = 'right';
        ctx.textBaseline = 'middle';
        spec.ticks.forEach((t, i) => {
          const label = spec.labels[i];
          const py = y.getPixelForValue(t);
          const neg = label.charAt(0) === '\u2212';
          const body = neg ? label.slice(1) : label;
          ctx.font = '31px "DejaVu Sans"';
          ctx.fillText(body, a.left - 7, py);
          if (neg) {
            const wb = ctx.measureText(body).width;
            ctx.font = '31px "Liberation Sans"';
            ctx.fillText('\u2212', a.left - 9 - wb, py);
          }
        });
        // axis title, rotated
        ctx.save();
        ctx.translate(spec.titleX, (a.top + a.bottom) / 2 + spec.titleDy);
        ctx.rotate(-Math.PI / 2);
        ctx.textAlign = 'left';
        ctx.textBaseline = 'alphabetic';
        ctx.font = spec.mainFont;
        const w1 = ctx.measureText(spec.main).width;
        ctx.font = spec.subFont;
        const w2 = ctx.measureText(spec.sub).width;
        const s = -(w1 + w2) / 2;
        ctx.font = spec.mainFont;
        ctx.fillText(spec.main, s, 0);
        ctx.font = spec.subFont;
        ctx.fillText(spec.sub, s + w1 + 1, spec.subDy);
        ctx.restore();
      }
      // x tick labels and title
      if (r === 3) {
        ctx.font = '38px "Liberation Sans"';
        ctx.fillStyle = '#000';
        ctx.textAlign = 'center';
        ctx.textBaseline = 'alphabetic';
        xTicks.forEach(t => ctx.fillText(String(t), x.getPixelForValue(t), a.bottom + 41));
        const cx = (a.left + a.right) / 2, by = a.bottom + 106;
        ctx.textAlign = 'left';
        ctx.font = 'italic 47px "Liberation Sans"';
        const wp = ctx.measureText('p').width;
        ctx.font = '26px "DejaVu Sans"';
        const wt = ctx.measureText('\u22a5').width;
        ctx.font = '47px "Liberation Sans"';
        const wg = ctx.measureText('(GeV)').width;
        const sx = cx - (wp + wt + wg) / 2;
        ctx.font = 'italic 47px "Liberation Sans"';
        ctx.fillText('p', sx, by);
        ctx.font = '26px "DejaVu Sans"';
        ctx.fillText('\u22a5', sx + wp, by + 5);
        ctx.font = '47px "Liberation Sans"';
        ctx.fillText('(GeV)', sx + wp + wt, by);
      }
      // centrality labels
      if (r === 0) {
        ctx.font = '46px "Liberation Sans"';
        ctx.fillStyle = '#000';
        ctx.textAlign = 'right';
        ctx.textBaseline = 'alphabetic';
        ctx.fillText(centralities[c], a.right - 16, a.bottom - 45);
      }
      if (r === 0 && c === 0) {
        ctx.textAlign = 'left';
        ctx.font = 'italic 58px "Liberation Sans"';
        ctx.fillText('h', a.left + 35, a.top + 61);
        ctx.font = '34px "Liberation Sans"';
        ctx.fillText('\u00b1', a.left + 66, a.top + 37);
      }
      // legends
      if (r === 3 && c === 2) {
        const bx = a.left + 270, by = a.top + 13;
        ctx.fillStyle = '#fff';
        ctx.fillRect(bx, by, 237, 140);
        ctx.strokeStyle = '#7f7f7f';
        ctx.lineWidth = 1.5;
        ctx.strokeRect(bx, by, 237, 140);
        const names = ['const', 'LHHQ', 'nature'];
        const dashes = [[], [13, 6], [13, 5, 5, 5]];
        names.forEach((n, i) => {
          const ly = a.top + 47 + i * 38.5;
          ctx.strokeStyle = '#000';
          ctx.lineWidth = 5;
          ctx.setLineDash(dashes[i]);
          hline(ctx, a.left + 286, a.left + 340, ly);
          ctx.setLineDash([]);
          ctx.fillStyle = '#000';
          ctx.textAlign = 'left';
          ctx.textBaseline = 'middle';
          ctx.font = 'italic 32px "Liberation Sans"';
          ctx.fillText('\u03b7', a.left + 350, ly);
          const we = ctx.measureText('\u03b7').width;
          ctx.font = '32px "Liberation Sans"';
          ctx.fillText('/s ' + n, a.left + 350 + we, ly);
        });
      }
      if (r === 3 && c === 3) {
        const bx = a.left + 332, by = a.top + 16;
        ctx.fillStyle = '#fff';
        ctx.fillRect(bx, by, 174, 144);
        ctx.strokeStyle = '#7f7f7f';
        ctx.lineWidth = 1.5;
        ctx.strokeRect(bx, by, 174, 144);
        const mx = a.left + 364;
        const names = ['CMS', 'ALICE', 'ATLAS'];
        names.forEach((n, i) => {
          const my = a.top + 48 + i * 40;
          ctx.fillStyle = styles[n].color;
          ctx.beginPath();
          if (i === 0) ctx.rect(mx - 16.5, my - 16, 33, 32);
          else if (i === 1) ctx.ellipse(mx, my, 16.5, 16.5, 0, 0, Math.PI * 2);
          else { ctx.moveTo(mx, my - 17); ctx.lineTo(mx + 16.5, my + 16); ctx.lineTo(mx - 16.5, my + 16); ctx.closePath(); }
          ctx.fill();
          ctx.fillStyle = '#000';
          ctx.font = '32px "Liberation Sans"';
          ctx.textAlign = 'left';
          ctx.textBaseline = 'middle';
          ctx.fillText(n, a.left + 387, my - 2);
        });
      }
      ctx.restore();
    }
  };
}

for (let r = 0; r < 4; r++) {
  for (let c = 0; c < 4; c++) {
    const cv = document.createElement('canvas');
    cv.width = PAD.left + PW + PAD.right;
    cv.height = PAD.top + PH + PAD.bottom;
    cv.style.left = (panelLeft[c] - PAD.left) + 'px';
    cv.style.top = (panelTop[r] - PAD.top) + 'px';
    document.body.appendChild(cv);
    new Chart(cv, {
      type: 'scatter',
      data: { datasets: panelDatasets(r, c) },
      options: {
        responsive: false,
        animation: false,
        events: [],
        layout: { padding: PAD },
        scales: {
          x: { type: 'linear', min: -2.2, max: 102.2, display: false },
          y: { type: 'linear', min: yMin[r][c], max: yMax[r][c], display: false }
        },
        plugins: { legend: { display: false }, tooltip: { enabled: false } }
      },
      plugins: [panelPlugin(r, c)]
    });
  }
}
</script>
</body>
</html>
